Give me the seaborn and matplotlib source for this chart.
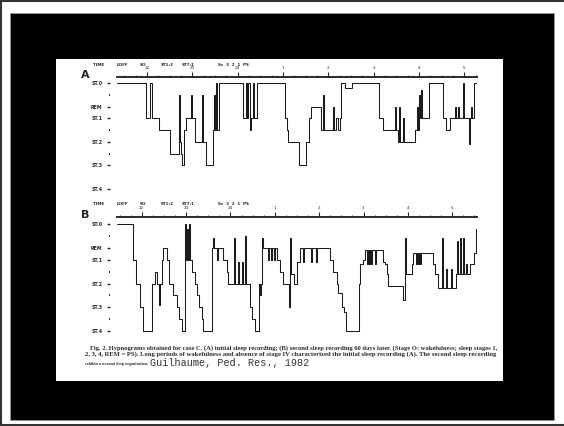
import seaborn as sns
import matplotlib.pyplot as plt
from matplotlib.patches import Rectangle
from matplotlib.lines import Line2D
from matplotlib.ticker import MultipleLocator

sns.set_style('white')
plt.rcParams['font.family'] = ['DejaVu Sans']

# ---- data (clock hours, stage depth: 0=ST.0, 1=REM, 1.5=ST.1, 2.5=ST.2, 3.5=ST.3, 4.5=ST.4)
time_a = [21.34, 21.98, 22.07, 22.11, 22.26, 22.51, 22.71, 22.73, 22.75, 22.77,
          22.82, 22.86, 22.97, 22.99, 23.06, 23.21, 23.24, 23.30, 23.46, 23.48,
          23.50, 23.52, 23.55, 23.59, 24.12, 24.19, 24.21, 24.23, 24.27, 24.30,
          24.34, 24.36, 24.43, 25.05, 25.09, 25.11, 25.36, 25.51, 25.58, 25.62,
          25.84, 25.89, 25.91, 26.11, 26.13, 26.17, 26.22, 26.26, 26.28, 26.37,
          26.53, 27.12, 27.21, 27.47, 27.50, 27.54, 27.56, 27.59, 27.65, 27.67,
          27.92, 27.96, 27.98, 28.00, 28.03, 28.05, 28.07, 28.23, 28.53, 28.60,
          28.69, 28.80, 28.82, 28.87, 28.89, 28.98, 29.00, 29.11, 29.13, 29.15,
          29.17, 29.22, 29.28]
stage_a = [0, 1.5, 0, 1.5, 2, 3, 0.5, 2.5, 3, 3.5,
           2, 1.5, 0.5, 1.5, 2.5, 0.5, 2.5, 3.5, 2, 0.5,
           2, 0, 2, 0, 1.5, 0, 1.5, 0, 2, 1.5,
           0, 1.5, 0, 1.5, 2, 2.5, 3.5, 2.5, 1.5, 1,
           2, 0.5, 2, 1, 2, 1.5, 2, 1.5, 0, 0.2,
           0, 1.5, 2, 1, 2, 2.5, 1, 2.5, 1.5, 2.5,
           2, 1, 2, 0.5, 1.5, 0.3, 1.5, 0, 1.5, 2,
           1.5, 1, 1.5, 1, 1.5, 0, 1.5, 2.6, 1.5, 1,
           1.5, 0, 0]

time_b = [21.44, 21.80, 21.86, 21.95, 22.02, 22.23, 22.29, 22.34, 22.38, 22.41,
          22.45, 22.47, 22.56, 22.61, 22.70, 22.79, 22.84, 22.90, 22.97, 22.99,
          23.02, 23.04, 23.06, 23.08, 23.13, 23.20, 23.24, 23.29, 23.35, 23.38,
          23.58, 23.60, 23.63, 23.69, 23.72, 23.83, 23.92, 23.94, 24.08, 24.10,
          24.17, 24.19, 24.26, 24.28, 24.33, 24.35, 24.44, 24.48, 24.55, 24.64,
          24.66, 24.69, 24.71, 24.73, 24.84, 24.87, 24.91, 24.93, 24.98, 25.00,
          25.05, 25.12, 25.18, 25.32, 25.34, 25.36, 25.43, 25.50, 25.57, 25.63,
          25.66, 25.81, 25.84, 25.93, 25.95, 26.24, 26.31, 26.40, 26.42, 26.51,
          26.56, 26.60, 26.90, 26.92, 26.99, 27.03, 27.08, 27.10, 27.12, 27.15,
          27.17, 27.19, 27.26, 27.28, 27.44, 27.49, 27.53, 27.55, 27.89, 27.94,
          27.96, 28.09, 28.12, 28.19, 28.21, 28.23, 28.25, 28.28, 28.30, 28.57,
          28.61, 28.68, 28.77, 28.79, 28.86, 28.88, 28.98, 29.00, 29.09, 29.11,
          29.13, 29.18, 29.20, 29.25, 29.27, 29.31, 29.34, 29.40, 29.49, 29.54,
          29.56]
stage_b = [0, 1.5, 2.5, 3.5, 4.5, 2.5, 2.0, 2.5, 3.4, 2.5,
           1.5, 1.0, 1.5, 2.5, 3.0, 3.5, 4.0, 4.5, 0, 1.5,
           0.2, 1.5, 0, 1.5, 2.0, 2.5, 3.0, 3.5, 4.0, 4.5,
           1.0, 0.6, 1.0, 1.5, 1.0, 1.5, 2.0, 2.5, 0.6, 2.5,
           1.6, 2.5, 1.6, 2.5, 0.5, 2.5, 3.5, 4.0, 4.5, 2.5,
           3.0, 2.5, 0.6, 1.0, 1.5, 1.0, 1.5, 1.0, 1.5, 1.0,
           1.5, 2.0, 2.5, 3.5, 0.6, 2.1, 2.5, 1.6, 1.0, 1.6,
           1.0, 1.6, 1.0, 1.6, 1.0, 1.5, 2.0, 2.5, 2.9, 3.5,
           3.7, 4.5, 2.5, 1.7, 1.5, 1.1, 1.7, 1.1, 1.7, 1.1,
           1.7, 1.1, 1.7, 1.1, 1.6, 1.7, 2.1, 2.6, 3.2, 0.6,
           2.1, 1.7, 1.2, 1.7, 1.2, 1.7, 1.2, 1.7, 1.2, 1.7,
           2.1, 2.7, 0.6, 2.7, 1.9, 2.7, 1.9, 2.7, 2.1, 0.7,
           2.1, 0.6, 2.1, 0.6, 2.1, 1.7, 2.1, 1.7, 1.2, 0.2,
           0.2]

hours = [22, 23, 24, 25, 26, 27, 28, 29]
hour_labels = ['22', '23', '24', '1', '2', '3', '4', '5']
stage_ticks = [0, 1, 1.5, 2.5, 3.5, 4.5]
stage_labels = ['ST.0', 'REM', 'ST.1', 'ST.2', 'ST.3', 'ST.4']
header_labels = ['TIME', 'LOFF', 'SO', 'ST1:2', 'ST7:1', 'Sc  3  2  1  PS']

caption = [
    'Fig. 2. Hypnograms obtained for case C. (A) initial sleep recording; (B) second sleep recording 60 days later. (Stage O: wakefulness; sleep stages 1,',
    '2, 3, 4, REM = PS). Long periods of wakefulness and absence of stage IV characterized the initial sleep recording (A). The second sleep recording',
    'exhibits a normal sleep organization.',
]
source = 'Guilhaume, Ped. Res., 1982'

W, H = 564, 426
INK = '#1c1c1c'


def fx(px):
    return px / W


def fy(py):
    return 1 - py / H


fig = plt.figure(figsize=(W / 100, H / 100), dpi=100, facecolor='white')

# frame, black mat and the scanned paper
fig.add_artist(Rectangle((fx(10), fy(420)), fx(554) - fx(10), (420 - 13) / H,
                         transform=fig.transFigure, facecolor='black', edgecolor='#999999',
                         lw=0.5, zorder=-5))
fig.add_artist(Rectangle((fx(56), fy(381)), fx(503) - fx(56), (381 - 59) / H,
                         transform=fig.transFigure, facecolor='white', edgecolor='none', zorder=-4))
for xs, ys in [([0.002, 0.002], [0, 1]), ([0, 1], [0.997, 0.997]), ([0, 1], [0.003, 0.003])]:
    fig.add_artist(Line2D(xs, ys, transform=fig.transFigure, color='#333333', lw=1.5))

panels = [
    dict(name='A', t=time_a, s=stage_a, top=77, zero=83, unit=23.55, bottom=195,
         tmin=21.34, tmax=29.28, minor=[0.5, 2, 3], head=65),
    dict(name='B', t=time_b, s=stage_b, top=217, zero=224, unit=23.8, bottom=336,
         tmin=21.44, tmax=29.56, minor=[0.5, 2, 3, 4], head=204),
]

for p in panels:
    ax = fig.add_axes([fx(117), fy(p['bottom']), fx(477) - fx(117), (p['bottom'] - p['top']) / H])
    sns.lineplot(x=p['t'], y=p['s'], drawstyle='steps-post', color=INK, lw=0.75,
                 estimator=None, sort=False, ax=ax)
    ax.set_xlim(p['tmin'], p['tmax'])
    ax.set_ylim((p['bottom'] - p['zero']) / p['unit'], (p['top'] - p['zero']) / p['unit'])
    ax.set_facecolor('none')
    ax.set_xlabel('')
    ax.set_ylabel('')
    for side in ['right', 'bottom']:
        ax.spines[side].set_visible(False)
    ax.spines['left'].set_visible(False)
    ax.spines['left'].set_position(('outward', 5))
    ax.spines['top'].set_linewidth(1.4)
    ax.spines['top'].set_color('#2a2a2a')

    ax.xaxis.tick_top()
    ax.set_xticks(hours)
    ax.set_xticklabels(hour_labels)
    ax.xaxis.set_minor_locator(MultipleLocator(0.25))
    ax.tick_params(axis='x', which='major', top=True, bottom=False, length=3.5, width=0.8,
                   pad=1.2, labelsize=3, colors='#2a2a2a', direction='out')
    ax.tick_params(axis='x', which='minor', top=True, bottom=False, length=1.5, width=0.6,
                   color='#2a2a2a', direction='out')

    ax.set_yticks(stage_ticks)
    ax.set_yticklabels(stage_labels)
    ax.set_yticks(p['minor'], minor=True)
    ax.tick_params(axis='y', which='major', left=True, length=2.5, width=1.0, pad=3,
                   labelsize=3.4, colors='#2a2a2a')
    ax.tick_params(axis='y', which='minor', left=True, length=1, width=1.5, color='#2a2a2a')
    for lab in ax.get_yticklabels():
        lab.set_fontweight('bold')
    ax.grid(False)

    fig.text(fx(85), fy(p['top'] - 2), p['name'], fontsize=8, fontweight='bold',
             color='#222222', ha='center', va='center')
    for xpx, lab in zip([99, 122, 143, 167, 188, 218], header_labels):
        fig.text(fx(xpx), fy(p['head']), lab, fontsize=3, fontweight='bold',
                 color='#2a2a2a', ha='left' if xpx == 218 else 'center', va='center')

# caption, fitted to the widths on the scan
renderer = fig.canvas.get_renderer()
cap_lines = [(90, 348, 490, caption[0]), (85, 354.5, 490, caption[1]), (85, 364, 148, caption[2])]
for x0, y0, x1, txt in cap_lines:
    t = fig.text(fx(x0), fy(y0), txt, fontsize=4, family='Liberation Serif',
                 fontweight='bold', color='#2a2a2a', ha='left', va='center')
    w = t.get_window_extent(renderer).width
    t.set_fontsize(4 * (x1 - x0) / w)
t = fig.text(fx(150), fy(363), source, fontsize=6, family='Liberation Mono',
             color='#333333', ha='left', va='center')
w = t.get_window_extent(renderer).width
t.set_fontsize(6 * (308 - 150) / w)

fig.savefig('out.png', dpi=100, facecolor=fig.get_facecolor())
